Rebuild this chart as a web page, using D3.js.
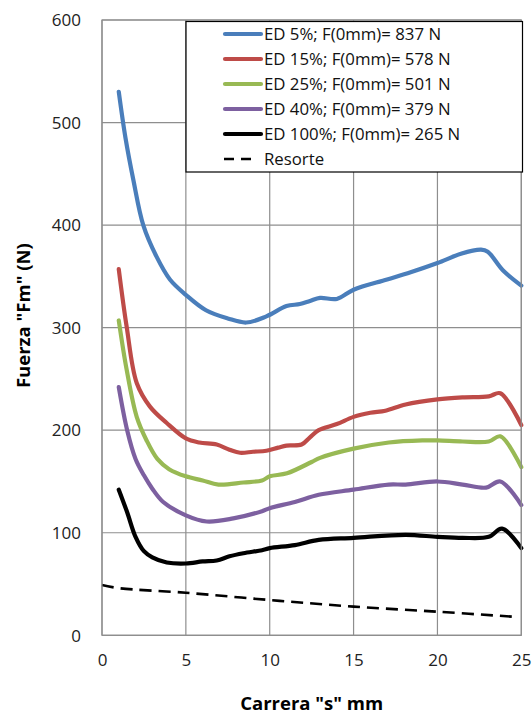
<!DOCTYPE html>
<html><head><meta charset="utf-8">
<script src="https://cdn.jsdelivr.net/npm/d3@7"></script>
<style>html,body{margin:0;padding:0;background:#fff;} svg{display:block;font-family:"Open Sans",sans-serif;}</style>
</head><body><svg id="c" width="532" height="717"></svg>
<script>
// ---- data ----
const xTicks = [0, 5, 10, 15, 20, 25];
const yTicks = [0, 100, 200, 300, 400, 500, 600];
const seriesNames = ["ED 5%; F(0mm)= 837 N", "ED 15%; F(0mm)= 578 N", "ED 25%; F(0mm)= 501 N", "ED 40%; F(0mm)= 379 N", "ED 100%; F(0mm)= 265 N", "Resorte"];
const seriesColors = ["#4a7ebb", "#be4b48", "#98b954", "#7d60a0", "#000000", "#000000"];

const ed5x  = [1.0, 1.4, 1.87, 2.46, 3.26, 4.05, 5.0, 6.2, 7.5, 8.6, 9.8, 11.0, 11.8, 12.4, 13.0, 14.0, 15.0, 17.0, 18.4, 20.0, 21.4, 22.6, 23.0, 23.9, 25.0];
const ed5y  = [530, 485, 444, 400, 369, 347, 332, 317, 309, 305, 311, 321, 323, 326, 329, 328, 337, 347, 354, 363, 372, 376, 374, 356, 341];

const ed15x = [1.0, 1.47, 2.07, 2.86, 3.86, 5.0, 5.8, 6.84, 7.6, 8.23, 9.0, 9.8, 10.5, 11.0, 11.9, 12.4, 12.92, 14.0, 15.0, 16.0, 16.9, 18.1, 20.0, 21.5, 23.06, 23.75, 25.0];
const ed15y = [357, 301, 246, 223, 207, 192, 188, 186, 181, 178, 179, 180, 183, 185, 186, 193, 200, 206, 213, 217, 219, 225, 230, 232, 233, 236, 205];

const ed25x = [1.0, 1.47, 2.07, 2.66, 3.3, 4.0, 5.0, 6.0, 6.94, 8.43, 9.54, 10.0, 11.03, 12.5, 13.0, 15.0, 17.1, 19.1, 20.0, 21.5, 23.06, 23.75, 25.0];
const ed25y = [307, 259, 213, 190, 172, 162, 155, 151, 147, 149, 151, 155, 158, 169, 173, 182, 188, 190, 190, 189, 189, 194, 164];

const ed40x = [1.0, 1.5, 2.0, 2.5, 3.0, 3.65, 5.0, 6.24, 7.83, 9.54, 10.0, 11.5, 12.92, 15.0, 17.1, 18.1, 20.0, 21.5, 22.9, 23.75, 25.0];
const ed40y = [242, 200, 172, 156, 143, 130, 117, 111, 114, 121, 124, 130, 137, 142, 147, 147, 150, 147, 144, 150, 127];

const ed100x = [1.0, 1.5, 2.0, 2.5, 3.0, 3.86, 5.0, 6.0, 6.84, 7.6, 8.43, 9.54, 10.0, 11.5, 12.92, 15.0, 18.1, 20.0, 21.5, 23.06, 23.85, 25.0];
const ed100y = [142, 120, 96, 82, 76, 71, 70, 72, 73, 77, 80, 83, 85, 88, 93, 95, 98, 96, 95, 96, 104, 85];

const resX = [0, 1, 5, 10, 15, 20, 24.65];
const resY = [49, 46, 41.5, 34.4, 28, 23, 18];

const seriesX = [ed5x, ed15x, ed25x, ed40x, ed100x, resX];
const seriesY = [ed5y, ed15y, ed25y, ed40y, ed100y, resY];

// ---- chart ----
const svg = d3.select("#c");
const L = 102, R = 521.3, T = 20, B = 635.3;
const x = d3.scaleLinear().domain([0, 25]).range([L, R]);
const y = d3.scaleLinear().domain([0, 600]).range([B, T]);
const grid = "#8e8e8e";

// gridlines
svg.append("g").selectAll("line").data(yTicks).join("line")
  .attr("x1", L).attr("x2", R).attr("y1", d => y(d)).attr("y2", d => y(d))
  .attr("stroke", grid).attr("stroke-width", 1.2);
svg.append("g").selectAll("line").data(xTicks).join("line")
  .attr("y1", T).attr("y2", B).attr("x1", d => x(d)).attr("x2", d => x(d))
  .attr("stroke", grid).attr("stroke-width", 1.2);

// axes (labels only)
const yAxis = d3.axisLeft(y).tickValues(yTicks).tickSize(0).tickPadding(0).tickFormat(d3.format("d"));
const ya = svg.append("g").attr("transform", `translate(${L - 21},0)`).call(yAxis);
ya.select(".domain").remove();
ya.selectAll("text").attr("font-size", 17).attr("fill", "#222").attr("font-family", '"Open Sans",sans-serif').attr("dy", "0.34em");

const xAxis = d3.axisBottom(x).tickValues(xTicks).tickSize(0).tickPadding(0).tickFormat(d3.format("d"));
const xa = svg.append("g").attr("transform", `translate(0,${B + 26})`).call(xAxis);
xa.select(".domain").remove();
xa.selectAll("text").attr("font-size", 17).attr("fill", "#222").attr("font-family", '"Open Sans",sans-serif').attr("dy", "0.3em");

// axis titles
svg.append("text").attr("x", (L + R) / 2).attr("y", 710).attr("text-anchor", "middle")
  .attr("font-weight", "bold").attr("font-size", 18.5).attr("fill", "#000").text('Carrera "s" mm');
svg.append("text").attr("transform", `translate(30,${(T + B) / 2 - 12}) rotate(-90)`).attr("text-anchor", "middle")
  .attr("font-weight", "bold").attr("font-size", 18.5).attr("fill", "#000").text('Fuerza "Fm" (N)');

// lines
const line = d3.line().x(d => x(d[0])).y(d => y(d[1])).curve(d3.curveCatmullRom.alpha(0.5));
seriesX.forEach((xs, i) => {
  const pts = xs.map((v, j) => [v, seriesY[i][j]]);
  const p = svg.append("path").datum(pts).attr("d", line)
    .attr("fill", "none").attr("stroke", seriesColors[i])
    .attr("stroke-linejoin", "round");
  if (i === 5) p.attr("stroke-width", 2.6).attr("stroke-dasharray", "12,7");
  else p.attr("stroke-width", 4.2).attr("stroke-linecap", "round");
});

// plot border
svg.append("rect").attr("x", L).attr("y", T).attr("width", R - L).attr("height", B - T)
  .attr("fill", "none").attr("stroke", grid).attr("stroke-width", 1.2);

// legend
const lg = svg.append("g");
lg.append("rect").attr("x", 186).attr("y", 21.5).attr("width", 336.5).attr("height", 150.5)
  .attr("fill", "#fff").attr("stroke", "#000").attr("stroke-width", 1.2);
const rowY = i => 34 + i * 25;
seriesNames.forEach((n, i) => {
  const l = lg.append("line").attr("x1", 225).attr("x2", 261).attr("y1", rowY(i)).attr("y2", rowY(i))
    .attr("stroke", seriesColors[i]);
  if (i === 5) l.attr("stroke-width", 2.6).attr("stroke-dasharray", "10,7").attr("x1", 224).attr("x2", 258);
  else l.attr("stroke-width", 4.2).attr("stroke-linecap", "round");
  lg.append("text").attr("x", 264).attr("y", rowY(i)).attr("dy", "0.36em")
    .attr("font-size", 16.8).attr("fill", "#111").text(n);
});
</script></body></html>
